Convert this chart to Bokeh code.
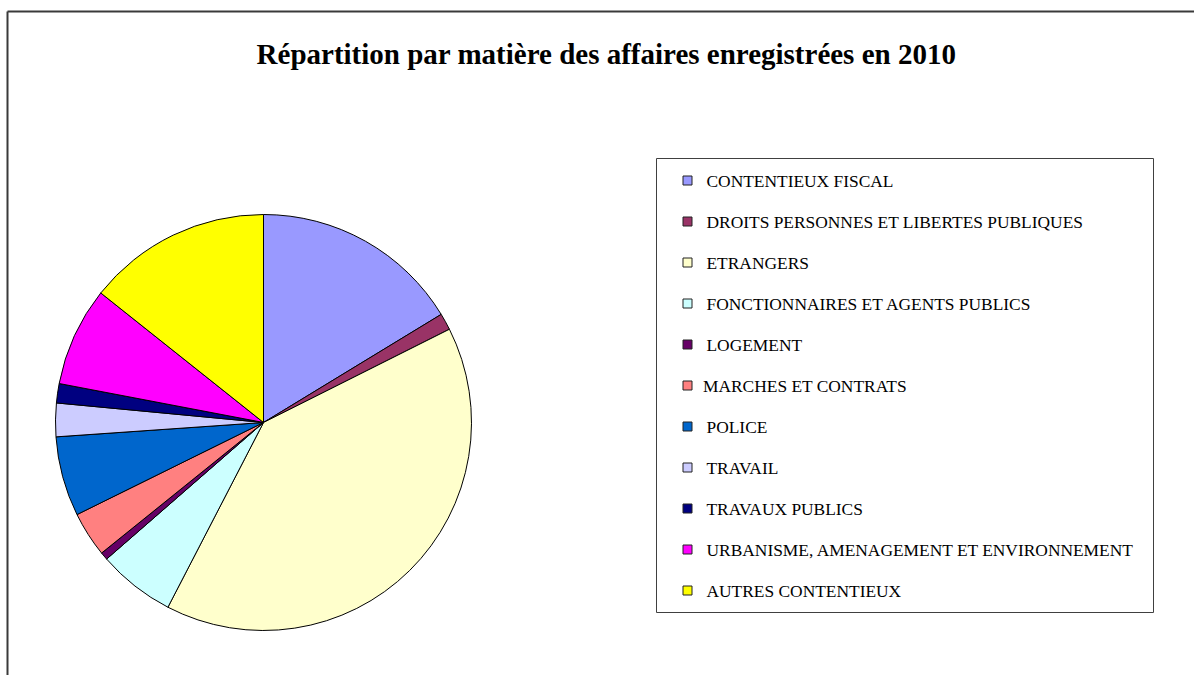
import math
from bokeh.plotting import figure
from bokeh.models import Range1d, ColumnDataSource
from bokeh.core.properties import value
from bokeh.embed import file_html
from bokeh.resources import INLINE

title = "Répartition par matière des affaires enregistrées en 2010"
categories = [
    "CONTENTIEUX FISCAL",
    "DROITS PERSONNES ET LIBERTES PUBLIQUES",
    "ETRANGERS",
    "FONCTIONNAIRES ET AGENTS PUBLICS",
    "LOGEMENT",
    "MARCHES ET CONTRATS",
    "POLICE",
    "TRAVAIL",
    "TRAVAUX PUBLICS",
    "URBANISME, AMENAGEMENT ET ENVIRONNEMENT",
    "AUTRES CONTENTIEUX",
]
shares = [16.3, 1.3, 40.0, 6.0, 0.6, 3.5, 6.2, 2.6, 1.5, 7.7, 14.3]
colors = ["#9999FF", "#993366", "#FFFFCC", "#CCFFFF", "#660066", "#FF8080",
          "#0066CC", "#CCCCFF", "#000080", "#FF00FF", "#FFFF00"]

W, H = 1194, 675
p = figure(width=W, height=H, output_backend="svg", toolbar_location=None,
           x_range=Range1d(0, W), y_range=Range1d(-H, 0),
           min_border=0)
p.axis.visible = False
p.grid.visible = False
p.outline_line_color = None
p.background_fill_color = "white"

# outer chart frame (extends past the window on the right and bottom)
p.segment(x0=[7, 7], y0=[-11, -11], x1=[7, 3000], y1=[-3000, -11],
          line_color="#3a3a3a", line_width=2)

# title
p.text(x=[606], y=[-53], text=[title], text_font=value("Liberation Serif"),
       text_font_style="bold", text_font_size="29px", text_color="black",
       text_align="center", text_baseline="middle")

# pie
total = sum(shares)
cx, cy, r = 263, -422, 208
starts, ends = [], []
cum = 0.0
for v in shares:
    a0 = math.pi / 2 - 2 * math.pi * cum / total
    cum += v
    a1 = math.pi / 2 - 2 * math.pi * cum / total
    starts.append(a1)
    ends.append(a0)
src = ColumnDataSource(dict(start=starts, end=ends, color=colors, name=categories))
p.wedge(x=cx, y=cy, radius=r, start_angle="start", end_angle="end",
        fill_color="color", line_color="black", line_width=1, source=src)

# legend box
lx0, lx1, ly0, ly1 = 656, 1153, 158, 612
p.quad(left=[lx0], right=[lx1], top=[-ly0], bottom=[-ly1],
       fill_color="white", line_color="#404040", line_width=1)
row0, step = 180, 41.0
ys = [-(row0 + i * step) for i in range(len(categories))]
tx = [702.5 if c.startswith("MARCHES") else 706 for c in categories]
p.rect(x=[687] * len(categories), y=ys, width=9, height=9,
       fill_color=colors, line_color="#222222", line_width=1)
p.text(x=tx, y=ys, text=categories, text_font=value("Liberation Serif"),
       text_font_size="17.4px", text_color="black", text_baseline="middle")

open("out.html", "w").write(file_html(p, INLINE))
